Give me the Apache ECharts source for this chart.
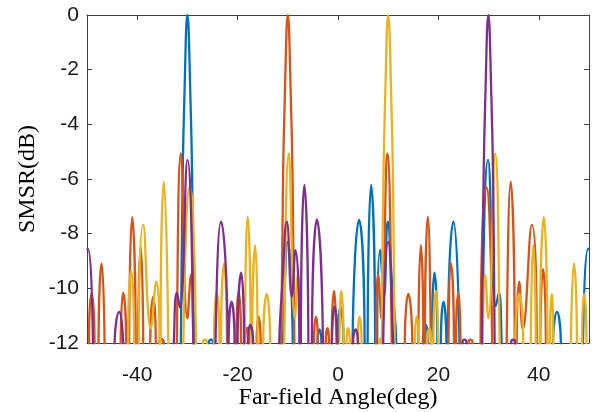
<!DOCTYPE html>
<html>
<head>
<meta charset="utf-8">
<script src="https://cdn.jsdelivr.net/npm/echarts@6/dist/echarts.min.js"></script>
<style>
  html, body { margin: 0; padding: 0; background: #fff; }
  #chart { width: 594px; height: 412px; }
</style>
</head>
<body>
<div id="chart"></div>
<script>
// tick labels
const xTicks = [-40, -20, 0, 20, 40];

// each lobe: points [angle, dB] from where it leaves the -12 dB floor to where it returns
const blueLobes = [
  [[-35.5, -12], [-35.1, -11.88], [-34.7, -12]],
  [[-31.3, -12], [-30.95, -6], [-30.6, -3], [-30.0, 0], [-29.4, -3], [-29.05, -6], [-28.7, -12]],
  [[-25.7, -12], [-25.3, -11.88], [-24.9, -12]],
  [[-11.0, -12], [-10.0, -8.3], [-9.0, -12]],
  [[-4.1, -12], [-3.7, -11.5], [-3.3, -12]],
  [[-0.1, -12], [0.5, -10.7], [1.1, -12]],
  [[2.9, -12], [4.2, -7.5], [5.3, -12]],
  [[5.9, -12], [6.6, -6.22], [7.4, -12]],
  [[7.8, -12], [8.4, -8.6], [9.15, -10.3], [9.9, -7.56], [10.8, -9.9], [11.6, -12]],
  [[16.9, -12], [17.5, -11.34], [17.9, -12]],
  [[18.7, -12], [19.2, -9.43], [19.8, -12]],
  [[20.5, -12], [21.0, -10.49], [21.6, -12]],
  [[21.9, -12], [23.0, -7.56], [24.2, -12]],
  [[28.7, -12], [29.9, -5.3], [31.45, -10.65], [32.05, -10.16], [32.6, -12]],
  [[42.8, -12], [43.6, -10.86], [44.4, -12]],
  [[48.8, -12], [49.85, -8.55], [50, -8.6]]
];

const orangeLobes = [
  [[-49.6, -12], [-49.1, -10.2], [-48.5, -12]],
  [[-47.7, -12], [-47.1, -9.09], [-46.5, -12]],
  [[-43.3, -12], [-42.8, -10.16], [-42.2, -12]],
  [[-41.6, -12], [-41.0, -7.4], [-40.3, -12]],
  [[-39.8, -12], [-39.3, -8.48], [-38.8, -12]],
  [[-37.4, -12], [-36.8, -10.3], [-36.3, -12]],
  [[-35.6, -12], [-35.2, -11.85], [-34.8, -12]],
  [[-32.1, -12], [-31.3, -5.06], [-30.0, -11.1], [-29.3, -9.5], [-28.8, -12]],
  [[-20.3, -12], [-19.8, -10.12], [-19.3, -12]],
  [[-18.5, -12], [-18.1, -11.45], [-17.7, -12]],
  [[-16.2, -12], [-15.8, -11.04], [-15.4, -12]],
  [[-11.3, -12], [-10.95, -6], [-10.6, -3], [-10.0, 0], [-9.4, -3], [-9.05, -6], [-8.7, -12]],
  [[-4.8, -12], [-4.4, -11.04], [-4.0, -12]],
  [[-2.45, -12], [-2.1, -11.46], [-1.8, -12]],
  [[-1.25, -12], [-0.8, -10.09], [-0.3, -12]],
  [[7.6, -12], [8.0, -9.5], [8.65, -11.1], [9.8, -5.06], [10.7, -12]],
  [[13.3, -12], [14.0, -10.2], [14.8, -12]],
  [[16.0, -12], [16.5, -8.42], [17.0, -12]],
  [[17.3, -12], [17.9, -7.38], [18.5, -12]],
  [[22.0, -12], [22.5, -9.09], [23.1, -12]],
  [[23.5, -12], [24.0, -10.16], [24.4, -12]],
  [[26.0, -12], [26.4, -11.88], [26.8, -12]],
  [[28.4, -12], [28.9, -7.2], [29.55, -6.3], [30.15, -7.3], [30.7, -12]],
  [[33.6, -12], [34.4, -6.1], [35.2, -12]],
  [[35.6, -12], [36.1, -9.76], [36.8, -11.5], [38.6, -7.68], [39.6, -12]],
  [[40.3, -12], [40.85, -9.3], [41.4, -12]]
];

const yellowLobes = [
  [[-41.8, -12], [-41.2, -9.35], [-40.6, -12]],
  [[-39.7, -12], [-38.8, -7.68], [-37.3, -11.46], [-36.2, -9.76], [-35.55, -12]],
  [[-35.35, -12], [-34.7, -6.1], [-33.8, -12]],
  [[-30.8, -12], [-30.15, -7.3], [-29.55, -6.3], [-28.9, -7.2], [-28.3, -12]],
  [[-26.9, -12], [-26.5, -11.88], [-26.1, -12]],
  [[-24.7, -12], [-24.2, -10.16], [-23.6, -12]],
  [[-23.3, -12], [-22.7, -9.09], [-22.1, -12]],
  [[-18.6, -12], [-18.0, -7.38], [-17.4, -12]],
  [[-17.1, -12], [-16.5, -8.42], [-16.0, -12]],
  [[-14.9, -12], [-14.2, -10.2], [-13.5, -12]],
  [[-10.7, -12], [-9.8, -5.06], [-8.6, -11.1], [-8.0, -9.5], [-7.5, -12]],
  [[0.25, -12], [0.65, -10.09], [1.1, -12]],
  [[1.7, -12], [2.0, -11.46], [2.35, -12]],
  [[3.9, -12], [4.3, -11.04], [4.7, -12]],
  [[8.25, -12], [8.45, -11.85], [8.65, -12]],
  [[8.75, -12], [9.05, -6], [9.4, -3], [10.0, 0], [10.6, -3], [10.95, -6], [11.3, -12]],
  [[15.3, -12], [15.7, -11.04], [16.1, -12]],
  [[17.8, -12], [18.2, -11.46], [18.55, -12]],
  [[19.0, -12], [19.5, -10.09], [20.0, -12]],
  [[28.8, -12], [29.3, -9.5], [29.95, -11.1], [31.3, -5.06], [32.2, -12]],
  [[35.3, -12], [36.1, -10.2], [36.9, -12]],
  [[38.4, -12], [38.9, -8.42], [39.4, -12]],
  [[40.2, -12], [41.0, -7.4], [41.7, -12]],
  [[42.2, -12], [42.6, -10.2], [42.9, -12]],
  [[46.4, -12], [47.0, -9.09], [47.6, -12]],
  [[48.6, -12], [49.0, -10.2], [49.5, -12]]
];

const purpleLobes = [
  [[-50, -8.6], [-49.85, -8.55], [-48.8, -12]],
  [[-44.5, -12], [-43.6, -10.86], [-42.8, -12]],
  [[-32.7, -12], [-32.1, -10.16], [-31.5, -10.7], [-30.0, -5.3], [-28.8, -12]],
  [[-24.4, -12], [-23.3, -7.56], [-22.0, -12]],
  [[-21.8, -12], [-21.2, -10.49], [-20.6, -12]],
  [[-20.0, -12], [-19.3, -9.43], [-18.7, -12]],
  [[-17.9, -12], [-17.5, -11.34], [-16.9, -12]],
  [[-11.7, -12], [-11.1, -9.9], [-10.2, -7.56], [-9.2, -10.3], [-8.5, -8.6], [-7.7, -12]],
  [[-7.4, -12], [-6.7, -6.22], [-5.9, -12]],
  [[-5.2, -12], [-4.2, -7.48], [-3.0, -12]],
  [[-1.2, -12], [-0.7, -10.67], [-0.1, -12]],
  [[3.0, -12], [3.5, -11.5], [4.0, -12]],
  [[9.0, -12], [10.0, -8.3], [11.0, -12]],
  [[24.8, -12], [25.2, -11.88], [25.6, -12]],
  [[28.65, -12], [29.0, -6], [29.35, -3], [29.95, 0], [30.55, -3], [30.9, -6], [31.2, -12]],
  [[34.5, -12], [34.9, -11.88], [35.3, -12]]
];

// between lobes the pattern drops into a null well below the axis
const NULL_DB = -40;
function toLine(lobes) {
  const pts = [];
  lobes.forEach((lobe, i) => {
    const first = lobe[0];
    if (i === 0) {
      if (first[0] > -50) pts.push([first[0], NULL_DB]);
    } else {
      const prev = lobes[i - 1][lobes[i - 1].length - 1];
      pts.push([(prev[0] + first[0]) / 2, NULL_DB]);
    }
    lobe.forEach(p => pts.push(p));
  });
  const last = lobes[lobes.length - 1];
  const end = last[last.length - 1];
  if (end[0] < 50) pts.push([end[0], NULL_DB]);
  return pts;
}

const chart = echarts.init(document.getElementById("chart"), null, { renderer: "canvas" });

const axisColor = "#404040";
const tickFont = { color: "#1a1a1a", fontSize: 21, fontFamily: "Liberation Sans, Arial, sans-serif" };
const nameFont = { color: "#000", fontSize: 24, fontFamily: "Liberation Serif, Times New Roman, serif" };

const lineSeries = (data, color) => ({
  type: "line",
  data: toLine(data),
  showSymbol: false,
  smooth: true,
  clip: true,
  lineStyle: { color, width: 2.3 },
  itemStyle: { color },
  animation: false
});

const option = {
  animation: false,
  grid: { left: 87, right: 5, top: 15, bottom: 69, containLabel: false, outerBoundsMode: "none" },
  xAxis: [
    {
      type: "value",
      min: -50,
      max: 50,
      position: "bottom",
      name: "Far-field Angle(deg)",
      nameLocation: "middle",
      nameGap: 43,
      nameMoveOverlap: false,
      nameTextStyle: nameFont,
      axisLine: { show: true, onZero: false, lineStyle: { color: axisColor, width: 1 } },
      axisTick: { show: true, inside: true, length: 5, customValues: xTicks, lineStyle: { color: axisColor } },
      axisLabel: { show: true, margin: 22, customValues: xTicks, ...tickFont },
      splitLine: { show: false }
    },
    {
      type: "value",
      min: -50,
      max: 50,
      position: "top",
      axisLine: { show: true, onZero: false, lineStyle: { color: axisColor, width: 1 } },
      axisTick: { show: true, inside: true, length: 5, customValues: xTicks, lineStyle: { color: axisColor } },
      axisLabel: { show: false },
      splitLine: { show: false }
    }
  ],
  yAxis: [
    {
      type: "value",
      min: -12,
      max: 0,
      interval: 2,
      position: "left",
      name: "SMSR(dB)",
      nameLocation: "middle",
      nameGap: 47,
      nameMoveOverlap: false,
      nameTextStyle: nameFont,
      axisLine: { show: true, onZero: false, lineStyle: { color: axisColor, width: 1 } },
      axisTick: { show: true, inside: true, length: 5, lineStyle: { color: axisColor } },
      axisLabel: { show: true, margin: 8, ...tickFont },
      splitLine: { show: false }
    },
    {
      type: "value",
      min: -12,
      max: 0,
      interval: 2,
      position: "right",
      axisLine: { show: true, onZero: false, lineStyle: { color: axisColor, width: 1 } },
      axisTick: { show: true, inside: true, length: 5, lineStyle: { color: axisColor } },
      axisLabel: { show: false },
      splitLine: { show: false }
    }
  ],
  series: [
    lineSeries(blueLobes, "#0072BD"),
    lineSeries(orangeLobes, "#D95319"),
    lineSeries(yellowLobes, "#EDB120"),
    lineSeries(purpleLobes, "#7E2F8E")
  ]
};

chart.setOption(option);
</script>
</body>
</html>
